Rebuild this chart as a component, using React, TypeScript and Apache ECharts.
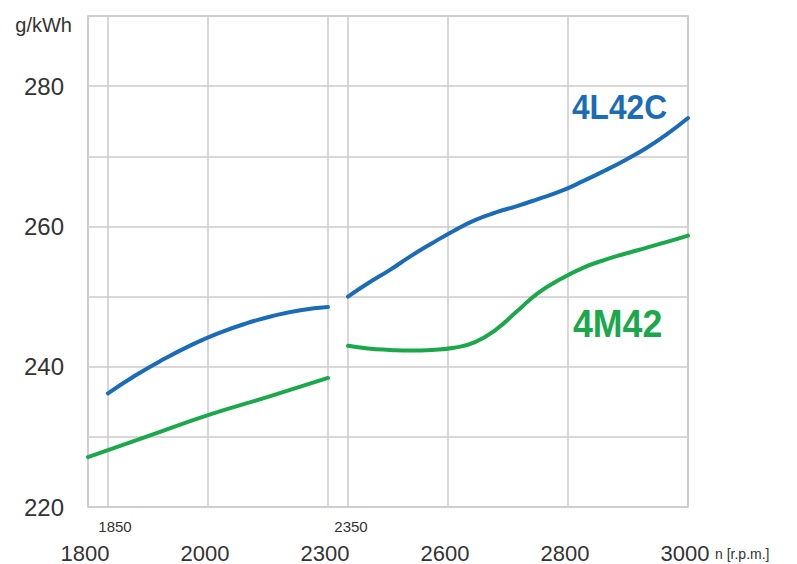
import React, { useEffect, useRef } from "react";
import * as echarts from "echarts";

// Schematic x-axis: rpm anchors and their positions on the drawn axis (unit = 1/6 grid cell)
const RPM_ANCHORS = [1800, 1850, 2000, 2300, 2350, 2600, 2800, 3000];
const POS_ANCHORS = [0, 1, 6, 12, 13, 18, 24, 30];

const MAJOR_X_TICKS = [1800, 2000, 2300, 2600, 2800, 3000];
const MINOR_X_TICKS = [1850, 2350];
const GRID_X_RPM = [1800, 1850, 2000, 2300, 2350, 2600, 2800, 3000];
const Y_TICK_LABELS = [220, 240, 260, 280];

// 4L42C (blue)
const BLUE_LOW_RPM = [1850, 1891, 1933, 1974, 2025, 2094, 2163, 2231, 2300];
const BLUE_LOW = [236.2, 238.75, 241.05, 243.05, 244.75, 246.15, 247.25, 248.05, 248.5];
const HIGH_RPM = [2350, 2400, 2455, 2505, 2560, 2610, 2645, 2680, 2715, 2750, 2790, 2825, 2860, 2895, 2930, 2965, 3000];
const BLUE_HIGH = [250.0, 251.9, 253.8, 255.7, 257.6, 259.4, 260.9, 262.0, 262.9, 263.9, 265.1, 266.45, 267.9, 269.45, 271.15, 273.15, 275.45];

// 4M42 (green)
const GREEN_LOW_RPM = [1800, 1910, 2000, 2150, 2300];
const GREEN_LOW = [227.1, 230.1, 233.1, 235.7, 238.4];
const GREEN_HIGH = [243.0, 242.6, 242.4, 242.3, 242.4, 242.7, 243.5, 245.3, 247.9, 250.5, 252.6, 254.1, 255.2, 256.1, 256.95, 257.8, 258.7];

const BLUE = "#1b6cb7";
const GREEN = "#1aa84b";
const GRID_COLOR = "#cbcbcb";
const TEXT = "#333333";
const FONT = "'Liberation Sans', Arial, sans-serif";

function toPos(rpm: number): number {
  for (let i = 0; i < RPM_ANCHORS.length - 1; i++) {
    const a = RPM_ANCHORS[i];
    const b = RPM_ANCHORS[i + 1];
    if (rpm >= a && rpm <= b) {
      return POS_ANCHORS[i] + ((rpm - a) / (b - a)) * (POS_ANCHORS[i + 1] - POS_ANCHORS[i]);
    }
  }
  return rpm < RPM_ANCHORS[0] ? POS_ANCHORS[0] : POS_ANCHORS[POS_ANCHORS.length - 1];
}

function pairs(rpms: number[], vals: number[]) {
  return rpms.map((r, i) => [toPos(r), vals[i]]);
}

function findTick(ticks: number[], v: number) {
  return ticks.findIndex((t) => Math.abs(toPos(t) - v) < 1e-6);
}

export default function App() {
  const ref = useRef<HTMLDivElement>(null);
  useEffect(() => {
    if (!ref.current) return;
    const chart = echarts.init(ref.current, undefined, { renderer: "svg" });
    const lineSeries = (name: string, data: number[][], color: string, extra: any = {}) => ({
      name,
      type: "line",
      data,
      smooth: 0.5,
      showSymbol: false,
      symbol: "none",
      z: 3,
      lineStyle: { color, width: 4, cap: "round" },
      ...extra,
    });
    chart.setOption({
      animation: false,
      backgroundColor: "#ffffff",
      grid: {
        left: 88,
        right: 109,
        top: 16,
        bottom: 57,
        show: true,
        borderColor: GRID_COLOR,
        borderWidth: 1.5,
        containLabel: false,
      },
      xAxis: [
        {
          type: "value",
          min: 0,
          max: 30,
          position: "bottom",
          offset: 0,
          axisLine: { show: false },
          axisTick: { show: false },
          splitLine: { show: false },
          axisLabel: {
            customValues: MAJOR_X_TICKS.map(toPos),
            formatter: (v: number) => {
              const i = findTick(MAJOR_X_TICKS, v);
              return i >= 0 ? String(MAJOR_X_TICKS[i]) : "";
            },
            margin: 35,
            fontSize: 22,
            padding: [0, 6, 0, 0],
            fontFamily: FONT,
            color: TEXT,
          },
        },
        {
          type: "value",
          min: 0,
          max: 30,
          position: "bottom",
          offset: 0,
          axisLine: { show: false },
          axisTick: { show: false },
          splitLine: { show: false },
          axisLabel: {
            customValues: MINOR_X_TICKS.map(toPos),
            formatter: (v: number) => {
              const i = findTick(MINOR_X_TICKS, v);
              return i < 0 ? "" : `{t${i}|${MINOR_X_TICKS[i]}}`;
            },
            margin: 12,
            fontSize: 15,
            fontFamily: FONT,
            color: TEXT,
            rich: {
              t0: { fontSize: 15, fontFamily: FONT, color: TEXT, padding: [0, 0, 0, 14] },
              t1: { fontSize: 15, fontFamily: FONT, color: TEXT, padding: [0, 0, 0, 6] },
            },
          },
        },
      ],
      yAxis: {
        type: "value",
        min: 220,
        max: 290,
        interval: 10,
        axisLine: { show: false },
        axisTick: { show: false },
        splitLine: { show: true, lineStyle: { color: GRID_COLOR, width: 1.5 } },
        axisLabel: {
          formatter: (v: number) => (Y_TICK_LABELS.includes(v) ? String(v) : ""),
          margin: 24,
          fontSize: 24,
          fontFamily: FONT,
          color: TEXT,
        },
      },
      series: [
        lineSeries("4L42C", pairs(BLUE_LOW_RPM, BLUE_LOW), BLUE, {
          markLine: {
            silent: true,
            symbol: ["none", "none"],
            z: 1,
            label: { show: false },
            lineStyle: { color: GRID_COLOR, width: 1.5, type: "solid" },
            data: GRID_X_RPM.map((r) => ({ xAxis: toPos(r) })),
          },
        }),
        lineSeries("4L42C ", pairs(HIGH_RPM, BLUE_HIGH), BLUE),
        lineSeries("4M42", pairs(GREEN_LOW_RPM, GREEN_LOW), GREEN),
        lineSeries("4M42 ", pairs(HIGH_RPM, GREEN_HIGH), GREEN),
      ],
      graphic: [
        {
          type: "text",
          x: 72,
          y: 25,
          style: {
            text: "g/kWh",
            fill: TEXT,
            font: `20px ${FONT}`,
            align: "right",
            verticalAlign: "middle",
          },
        },
        {
          type: "text",
          x: 715,
          y: 554,
          style: {
            text: "n [r.p.m.]",
            fill: TEXT,
            font: `14px ${FONT}`,
            align: "left",
            verticalAlign: "middle",
          },
        },
        {
          type: "text",
          x: 572,
          y: 106,
          scaleX: 0.88,
          style: {
            text: "4L42C",
            fill: BLUE,
            font: `bold 36px ${FONT}`,
            align: "left",
            verticalAlign: "middle",
          },
        },
        {
          type: "text",
          x: 573,
          y: 324,
          scaleX: 0.94,
          style: {
            text: "4M42",
            fill: GREEN,
            font: `bold 38px ${FONT}`,
            align: "left",
            verticalAlign: "middle",
          },
        },
      ],
    });
    return () => chart.dispose();
  }, []);
  return (
    <div
      ref={ref}
      style={{ position: "fixed", left: 0, top: 0, width: 797, height: 564, background: "#fff" }}
    />
  );
}
